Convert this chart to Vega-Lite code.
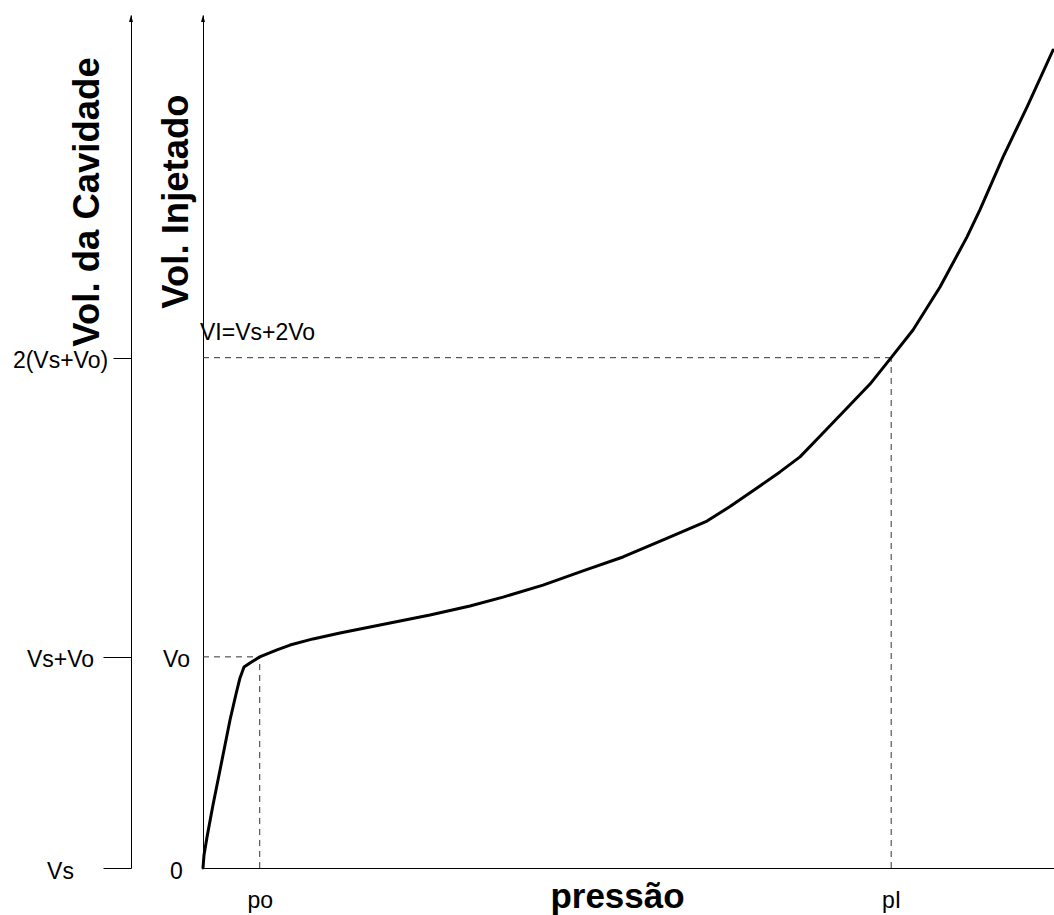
{
  "$schema": "https://vega.github.io/schema/vega-lite/v6.json",
  "autosize": "none",
  "padding": {"left": 203, "top": 15, "right": 0, "bottom": 47},
  "width": 851,
  "height": 853,
  "background": "white",
  "config": {
    "view": {"stroke": null},
    "font": "Liberation Sans",
    "axis": {
      "grid": false,
      "domainColor": "black",
      "domainWidth": 1,
      "labelColor": "black",
      "titleColor": "black",
      "labelFont": "Liberation Sans",
      "titleFont": "Liberation Sans",
      "labelFontSize": 23,
      "titleFontSize": 35,
      "titleFontWeight": "bold",
      "labelFlush": false,
      "labelOverlap": false
    }
  },
  "datasets": {
    "curva": [
      {"p": 0, "v": 0},
      {"p": 0.018, "v": 0.062},
      {"p": 0.071, "v": 0.147},
      {"p": 0.176, "v": 0.298},
      {"p": 0.3, "v": 0.464},
      {"p": 0.476, "v": 0.701},
      {"p": 0.582, "v": 0.824},
      {"p": 0.652, "v": 0.9},
      {"p": 0.723, "v": 0.952},
      {"p": 0.828, "v": 0.971},
      {"p": 1.0, "v": 1.0},
      {"p": 1.304, "v": 1.033},
      {"p": 1.534, "v": 1.056},
      {"p": 1.939, "v": 1.085},
      {"p": 2.415, "v": 1.113},
      {"p": 3.12, "v": 1.151},
      {"p": 4.001, "v": 1.198},
      {"p": 4.706, "v": 1.241},
      {"p": 5.288, "v": 1.283},
      {"p": 5.993, "v": 1.34},
      {"p": 6.698, "v": 1.407},
      {"p": 7.403, "v": 1.473},
      {"p": 8.143, "v": 1.558},
      {"p": 8.884, "v": 1.643},
      {"p": 9.289, "v": 1.712},
      {"p": 9.765, "v": 1.8},
      {"p": 10.17, "v": 1.876},
      {"p": 10.523, "v": 1.947},
      {"p": 10.929, "v": 2.06},
      {"p": 11.352, "v": 2.179},
      {"p": 11.757, "v": 2.292},
      {"p": 12.13, "v": 2.417},
      {"p": 12.515, "v": 2.548},
      {"p": 12.991, "v": 2.752},
      {"p": 13.467, "v": 2.989},
      {"p": 13.696, "v": 3.118},
      {"p": 14.101, "v": 3.367},
      {"p": 14.524, "v": 3.604},
      {"p": 14.983, "v": 3.874}
    ],
    "guias": [
      {"p": 0, "v": 1, "p2": 1, "v2": 1},
      {"p": 1, "v": 0, "p2": 1, "v2": 1},
      {"p": 0, "v": 2.417, "p2": 12.13, "v2": 2.417},
      {"p": 12.13, "v": 0, "p2": 12.13, "v2": 2.417}
    ],
    "setas": [
      {"p": -1.269, "v": 4.023},
      {"p": 0, "v": 4.023}
    ],
    "rotulo": [
      {"p": 0, "v": 2.417, "texto": "VI=Vs+2Vo"}
    ]
  },
  "resolve": {"axis": {"x": "independent", "y": "independent"}},
  "layer": [
    {
      "data": {"name": "guias"},
      "mark": {"type": "rule", "strokeDash": [6, 5], "color": "#333333", "strokeWidth": 1, "clip": false},
      "encoding": {
        "x": {"field": "p", "type": "quantitative", "scale": {"domain": [0, 15], "nice": false, "zero": false}, "axis": null},
        "y": {"field": "v", "type": "quantitative", "scale": {"domain": [0, 4.04], "nice": false, "zero": false}, "axis": null},
        "x2": {"field": "p2"},
        "y2": {"field": "v2"}
      }
    },
    {
      "data": {"name": "curva"},
      "mark": {"type": "line", "color": "black", "strokeWidth": 3, "interpolate": "linear", "strokeCap": "round", "strokeJoin": "round", "clip": false},
      "encoding": {
        "x": {
          "field": "p", "type": "quantitative",
          "scale": {"domain": [0, 15], "nice": false, "zero": false},
          "axis": {
            "orient": "bottom",
            "values": [1, 12.13],
            "labelExpr": "datum.value == 1 ? 'po' : 'pI'",
            "ticks": false,
            "tickSize": 0,
            "labelAlign": "center",
            "labelBaseline": "alphabetic",
            "labelPadding": 39,
            "title": "pressão",
            "titleX": 414,
            "titleY": 39,
            "titleAlign": "center",
            "titleBaseline": "alphabetic"
          }
        },
        "y": {
          "field": "v", "type": "quantitative",
          "scale": {"domain": [0, 4.04], "nice": false, "zero": false},
          "axis": {
            "orient": "left",
            "values": [0, 1],
            "labelExpr": "datum.value == 0 ? '0' : 'Vo'",
            "ticks": false,
            "tickSize": 0,
            "labelAlign": "center",
            "labelBaseline": "middle",
            "labelPadding": 27,
            "labelOffset": 3,
            "title": "Vol. Injetado",
            "titleFontSize": 36.5,
            "titleAngle": 270,
            "titleX": -16,
            "titleY": 186,
            "titleAlign": "center",
            "titleBaseline": "alphabetic"
          }
        }
      }
    },
    {
      "data": {"name": "setas"},
      "mark": {"type": "point", "shape": "M0,-1L0.57,1L-0.57,1Z", "size": 49, "filled": true, "color": "black", "opacity": 1, "clip": false},
      "encoding": {
        "x": {"field": "p", "type": "quantitative", "scale": {"domain": [0, 15], "nice": false, "zero": false}, "axis": null},
        "y": {
          "field": "v", "type": "quantitative",
          "scale": {"domain": [0, 4.04], "nice": false, "zero": false},
          "axis": {
            "orient": "left",
            "offset": 72,
            "values": [0, 1, 2.417],
            "labelExpr": "datum.value == 0 ? 'Vs' : datum.value == 1 ? 'Vs+Vo' : '2(Vs+Vo)'",
            "tickSize": {"condition": {"test": "datum.value > 2", "value": 18}, "value": 28},
            "tickColor": "black",
            "labelAlign": "center",
            "labelBaseline": "middle",
            "labelPadding": {"condition": {"test": "datum.value > 2", "value": 53}, "value": 43},
            "labelOffset": 3,
            "title": "Vol. da Cavidade",
            "titleFontSize": 36.5,
            "titleAngle": 270,
            "titleX": -33,
            "titleY": 186.5,
            "titleAlign": "center",
            "titleBaseline": "alphabetic"
          }
        }
      }
    },
    {
      "data": {"name": "rotulo"},
      "mark": {"type": "text", "align": "left", "baseline": "alphabetic", "dx": -3, "dy": -18, "fontSize": 23, "font": "Liberation Sans", "color": "black", "clip": false},
      "encoding": {
        "x": {"field": "p", "type": "quantitative", "scale": {"domain": [0, 15], "nice": false, "zero": false}, "axis": null},
        "y": {"field": "v", "type": "quantitative", "scale": {"domain": [0, 4.04], "nice": false, "zero": false}, "axis": null},
        "text": {"field": "texto"}
      }
    }
  ]
}
